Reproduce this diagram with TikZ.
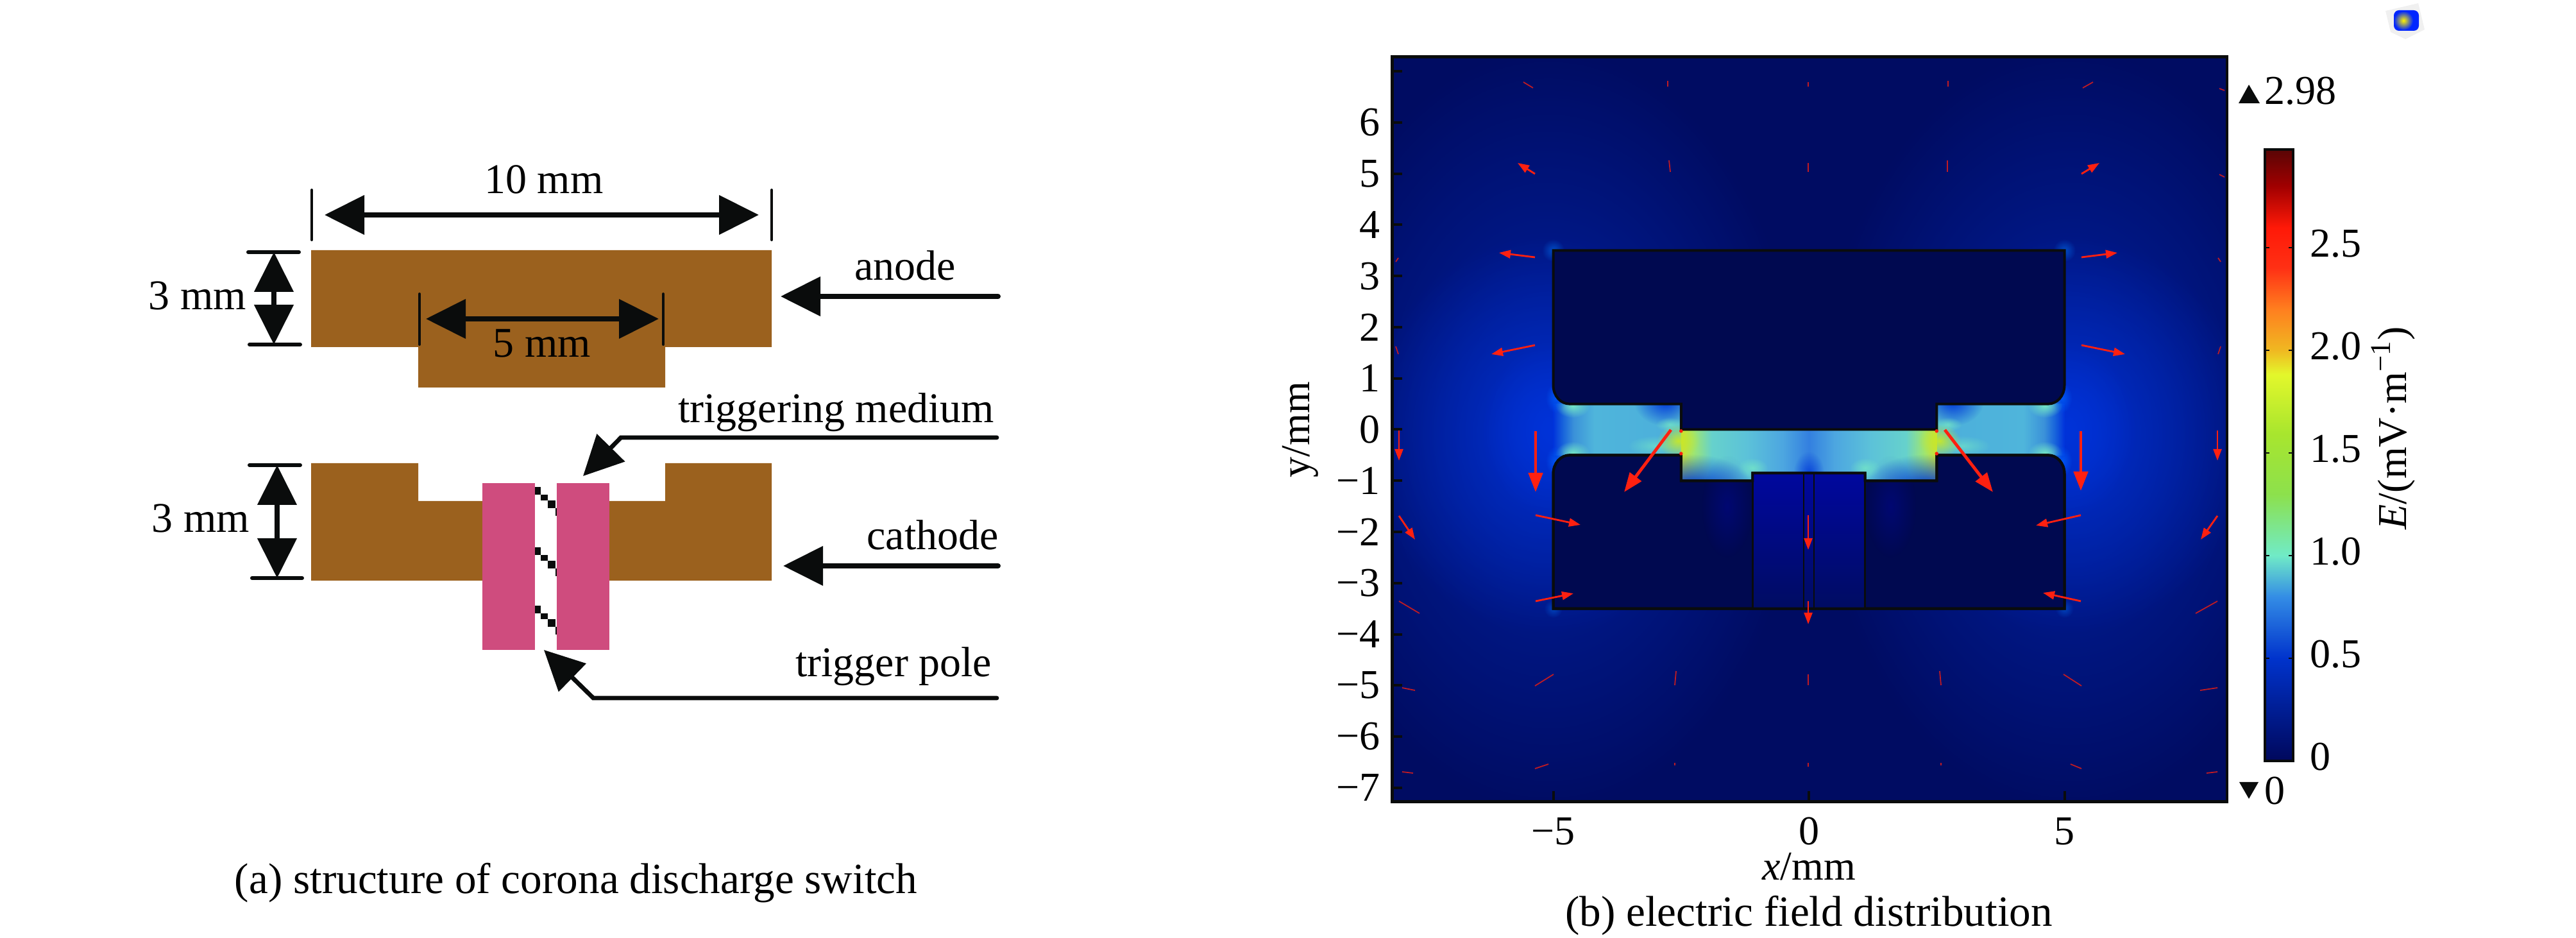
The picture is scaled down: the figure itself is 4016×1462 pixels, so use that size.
\documentclass[tikz,border=0pt]{standalone}
\usepackage{fontspec}
\setmainfont{Liberation Serif}
\usetikzlibrary{arrows.meta,fadings}

\definecolor{brownmetal}{HTML}{9B611E}
\definecolor{pinkpole}{HTML}{CF4C7E}
\definecolor{inkblack}{HTML}{0A0C0C}
\definecolor{navyfield}{HTML}{000C62}
\definecolor{navymetal}{HTML}{000950}
\definecolor{redarrow}{HTML}{FF2010}
\definecolor{glowblue}{HTML}{0034DC}
\definecolor{deepblue}{HTML}{0038D8}
\definecolor{mintglow}{HTML}{78ECC4}
\definecolor{limeglow}{HTML}{C8E828}

\pgfdeclareverticalshading{rainbowbar}{100bp}{
  rgb(0bp)=(0,.03,.36);rgb(25bp)=(0,.03,.36);rgb(33.4bp)=(0,.2,.8);rgb(38.4bp)=(.2,.55,.9);
  rgb(41.8bp)=(.44,.92,.78);rgb(46.8bp)=(.55,.88,.3);rgb(51.8bp)=(.66,.9,.18);rgb(56.6bp)=(.89,.97,.17);
  rgb(58.6bp)=(.94,.72,.13);rgb(61.9bp)=(1,.5,.12);rgb(65.3bp)=(1,.19,.08);rgb(68.6bp)=(1,.1,.03);
  rgb(72bp)=(.63,0,0);rgb(75bp)=(.35,.02,.02);rgb(100bp)=(.35,.02,.02)}
\pgfdeclarehorizontalshading{gapcentre}{100bp}{
  rgb(0bp)=(.8,.88,.2);rgb(25bp)=(.8,.88,.2);rgb(27.5bp)=(.62,.9,.45);rgb(31bp)=(.4,.82,.8);
  rgb(38bp)=(.36,.76,.85);rgb(45bp)=(.3,.65,.88);rgb(50bp)=(.2,.5,.88);rgb(55bp)=(.3,.65,.88);
  rgb(62bp)=(.36,.76,.85);rgb(69bp)=(.4,.82,.8);rgb(72.5bp)=(.62,.9,.45);rgb(75bp)=(.8,.88,.2);
  rgb(100bp)=(.8,.88,.2)}
\pgfdeclarehorizontalshading{gapside}{100bp}{
  rgb(0bp)=(0,.2,.86);rgb(25bp)=(0,.2,.86);rgb(29bp)=(.1,.4,.86);rgb(33bp)=(.23,.57,.85);rgb(41bp)=(.31,.71,.86);
  rgb(68bp)=(.3,.69,.86);rgb(75bp)=(.36,.76,.82);rgb(100bp)=(.36,.76,.82)}

\tikzfading[name=softglow,inner color=transparent!0,outer color=transparent!100]

\tikzset{
  sketchtext/.style={inner sep=0pt,font=\fontsize{16.5}{20}\selectfont},
  ticktext/.style={inner sep=0pt,font=\fontsize{16}{20}\selectfont},
  capttext/.style={inner sep=0pt,font=\fontsize{16.8}{20}\selectfont},
  dimline/.style={line width=2pt,inkblack,{Triangle[length=15.5pt,width=15pt]}-{Triangle[length=15.5pt,width=15pt]}},
  feedline/.style={line width=2pt,inkblack,line cap=round,-{Triangle[length=15.5pt,width=15pt]}},
  endbar/.style={line width=1pt,inkblack,line cap=round},
  softfill/.style={path fading=softglow,draw=none},
  electrode/.style={fill=navymetal,draw=inkblack,line width=1pt},
  fieldbig/.style={redarrow,line width=1.2pt,-{Triangle[length=7.5pt,width=5.5pt]}},
  fieldmid/.style={redarrow,line width=.7pt,-{Triangle[length=4.5pt,width=3.2pt]}},
  fieldtiny/.style={redarrow!75!navyfield,line width=.45pt}
}

\newcommand\ANODEPATH{(-5,3.5) -- (5,3.5) -- (5,.87) .. controls (5,.65) and (4.85,.5) .. (4.68,.5)
  -- (2.5,.5) -- (2.5,0) -- (-2.5,0) -- (-2.5,.5) -- (-4.68,.5) .. controls (-4.85,.5) and (-5,.65) .. (-5,.87) -- cycle}
\newcommand\CATHODEPATH{(-5,-3.5) -- (5,-3.5) -- (5,-.87) .. controls (5,-.65) and (4.85,-.5) .. (4.68,-.5)
  -- (2.5,-.5) -- (2.5,-1) -- (1.1,-1) -- (1.1,-.85) -- (-1.1,-.85) -- (-1.1,-1) -- (-2.5,-1) -- (-2.5,-.5)
  -- (-4.68,-.5) .. controls (-4.85,-.5) and (-5,-.65) .. (-5,-.87) -- cycle}

\begin{document}
\begin{tikzpicture}[x=.25pt,y=-.25pt]

  \useasboundingbox (0,0) rectangle (4016,1462);

  % (a) the switch
  \fill[brownmetal] (485,390) -- (1203,390) -- (1203,541) -- (1037,541) -- (1037,604)
    -- (652,604) -- (652,541) -- (485,541) -- cycle;
  \fill[brownmetal] (485,722) -- (652,722) -- (652,781) -- (752,781) -- (752,905) -- (485,905) -- cycle;
  \fill[brownmetal] (950,781) -- (1037,781) -- (1037,722) -- (1203,722) -- (1203,905) -- (950,905) -- cycle;
  \fill[pinkpole] (752,753) rectangle (834,1013);
  \fill[pinkpole] (868,753) rectangle (950,1013);

  \foreach \YS in {0,94,185}{
    \fill[inkblack] (834,759+\YS) rectangle (843,771+\YS);
    \fill[inkblack] (843,771+\YS) rectangle (854,780+\YS);
    \fill[inkblack] (854,780+\YS) rectangle (866,792+\YS);
    \fill[inkblack] (866,792+\YS) rectangle (868,804+\YS);
  }

  \coordinate (wideL) at (506,335);
  \coordinate (wideR) at (1183,335);
  \coordinate (narrowL) at (664,497);
  \coordinate (narrowR) at (1027,497);
  \coordinate (anodeT) at (427,393);
  \coordinate (anodeB) at (427,537);
  \coordinate (cathT) at (432,725);
  \coordinate (cathB) at (432,901);

  \draw[endbar] (486,296) -- (486,374);
  \draw[endbar] (1203,296) -- (1203,374);
  \draw[endbar] (654,458) -- (654,537);
  \draw[endbar] (1034,458) -- (1034,537);
  \draw[endbar,line width=1.5pt] (387,393) -- (466,393);
  \draw[endbar,line width=1.5pt] (389,537) -- (468,537);
  \draw[endbar,line width=1.5pt] (389,725) -- (468,725);
  \draw[endbar,line width=1.5pt] (393,901) -- (471,901);

  \draw[dimline] (wideL) -- (wideR);
  \draw[dimline] (narrowL) -- (narrowR);
  \draw[dimline] (anodeT) -- (anodeB);
  \draw[dimline] (cathT) -- (cathB);

  \node[sketchtext,anchor=base] (wideText) at (848,302) {10 mm};
  \node[sketchtext,anchor=base] (narrowText) at (845,557) {5 mm};
  \node[sketchtext,anchor=base] (anodeText) at (308,483) {3 mm};
  \node[sketchtext,anchor=base] (cathText) at (313,830) {3 mm};

  \coordinate (anodeTail) at (1556,462);
  \coordinate (anodeTip) at (1217,462);
  \coordinate (cathodeTail) at (1556,882);
  \coordinate (cathodeTip) at (1221,882);
  \coordinate (mediumTail) at (1554,682);
  \coordinate (mediumBend) at (968,682);
  \coordinate (mediumTip) at (909,742);
  \coordinate (poleTail) at (1554,1088);
  \coordinate (poleBend) at (925,1088);
  \coordinate (poleTip) at (848,1013);

  \draw[feedline] (anodeTail) -- (anodeTip);
  \draw[feedline] (cathodeTail) -- (cathodeTip);
  \draw[feedline,line width=1.7pt] (mediumTail) -- (mediumBend) -- (mediumTip);
  \draw[feedline,line width=1.7pt] (poleTail) -- (poleBend) -- (poleTip);

  \node[sketchtext,anchor=base] (anodeName) at (1411,437) {anode};
  \node[sketchtext,anchor=base] (cathodeName) at (1454,857) {cathode};
  \node[sketchtext,anchor=base east] (mediumName) at (1551,659) {triggering medium};
  \node[sketchtext,anchor=base east] (poleName) at (1547,1055) {trigger pole};

  \node[capttext,anchor=base] (captA) at (898,1393) {(a) structure of corona discharge switch};

  % (b) the field plot, in mm
  \begin{scope}[shift={(2820,669.5)},x=19.925pt,y=19.94pt]

    \begin{scope}
      \clip (-8.15,-7.27) rectangle (8.18,7.28);
      \fill[navyfield] (-8.15,-7.27) rectangle (8.18,7.28);

      % glows, mirrored about x=0
      \foreach \SG in {-1,1}{
        \foreach \GX/\GY/\RX/\RY/\GC/\GO in {
          5.1/0/5/7.5/glowblue/.55,
          5.1/-.1/3.6/3.9/glowblue/.75,
          5/0/1.4/1.7/glowblue/.8,
          5/3.5/.22/.22/blue!50!cyan/.5,
          5/-3.5/.18/.18/blue!50!cyan/.4}
          \fill[softfill,fill=\GC,opacity=\GO] (\SG*\GX,\GY) ellipse [x radius=\RX,y radius=\RY];
      }

      % the gaps
      \shade[shading=gapside] (-5,-.5) rectangle (-2.5,.5);
      \shade[shading=gapside,shading angle=180] (2.5,-.5) rectangle (5,.5);
      \shade[shading=gapcentre] (-2.5,-1) rectangle (2.5,0);

      \foreach \SG in {-1,1}{
        \foreach \GX/\GY/\RX/\RY/\GC/\GO in {
          2.3/-1.1/1.2/.62/deepblue/1,
          2.8/.55/.62/.48/deepblue/1,
          4.62/.47/.34/.24/mintglow/.95,
          4.62/-.47/.34/.24/mintglow/.95,
          4.95/.62/.2/.3/blue!60!cyan/.7,
          4.95/-.62/.2/.3/blue!60!cyan/.7,
          1.1/-.75/.3/.2/mintglow/.7,
          3/-.32/.55/.2/mintglow/.6,
          2.72/.1/.28/.14/mintglow/.7,
          2.55/-.22/.42/.32/limeglow/.95}
          \fill[softfill,fill=\GC,opacity=\GO] (\SG*\GX,\GY) ellipse [x radius=\RX,y radius=\RY];
      }
      \fill[softfill,fill=deepblue,opacity=.8] (0,-.85) ellipse [x radius=.3,y radius=.42];
    \end{scope}

    \draw[electrode] \ANODEPATH;
    \draw[electrode] \CATHODEPATH;

    % inside the trigger pole
    \shade[top color=blue!38!navyfield,bottom color=navyfield] (-1.1,-.85) rectangle (1.1,-3.5);
    \foreach \SG in {-1,1}
      \fill[softfill,fill=blue!60!navyfield,opacity=.3] (\SG*1.6,-1.5) ellipse [x radius=.5,y radius=1];

    \draw[electrode,fill=none] \CATHODEPATH;
    \draw[inkblack,line width=.7pt] (-1.1,-.85) -- (-1.1,-3.5);
    \draw[inkblack,line width=.7pt] (1.1,-.85) -- (1.1,-3.5);
    \draw[inkblack,line width=.7pt] (-.1,-.85) -- (-.1,-3.5);
    \draw[inkblack,line width=.7pt] (.1,-.85) -- (.1,-3.5);

    \foreach \SG in {-1,1}
      \foreach \GY in {-.03,-.47}
        \fill[redarrow] (\SG*2.5,\GY) circle (.035);

    % frame and ticks
    \draw[inkblack,line width=1.2pt] (-8.15,-7.27) rectangle (8.18,7.28);
    \foreach \YV in {-7,...,7}
      \draw[inkblack,line width=1pt] (-8.15,\YV) -- (-7.95,\YV);
    \foreach \XV in {-5,0,5}
      \draw[inkblack,line width=1pt] (\XV,-7.27) -- (\XV,-7.07);

    \foreach \YV/\YT in {-7/−7,-6/−6,-5/−5,-4/−4,-3/−3,-2/−2,-1/−1,0/0,1/1,2/2,3/3,4/4,5/5,6/6}
      \node[ticktext,anchor=east] (ylab\YV) at (-8.38,\YV) {\YT};
    \foreach \XV/\XT in {-5/−5,0/0,5/5}
      \node[ticktext,anchor=base] (xlab\XV) at (\XV,-8.11) {\XT};

    \node[ticktext,anchor=base] (xName) at (0,-8.8) {\textit{x}/mm};
    \node[ticktext,rotate=90] (yName) at (-9.95,0) {y/mm};

  \end{scope}

  % red field arrows, in picture pixels
  \foreach \AX/\AY/\BX/\BY in {2394/672/2394/767, 3244/672/3244/765, 2605/670/2532/767, 3032/670/3107/767}
    \draw[fieldbig] (\AX,\AY) -- (\BX,\BY);
  \foreach \AX/\AY/\BX/\BY in {2394/803/2464/818, 3244/803/3174/819, 2394/937/2453/925, 3244/937/3185/924,
      2393/401/2337/394, 3245/401/3301/394, 2393/538/2325/552, 3245/538/3313/552,
      2819/803/2819/857, 2819/937/2819/973, 2181/671/2181/718, 3457/671/3457/718,
      2181/804/2206/841, 3457/804/3431/841, 2393/271/2366/254, 3245/271/3273/254}
    \draw[fieldmid] (\AX,\AY) -- (\BX,\BY);
  \foreach \AX/\AY/\BX/\BY in {2181/937/2213/956, 3457/937/3423/956, 2393/1069/2422/1051, 3245/1069/3217/1051,
      2611/1068/2613/1046, 3026/1068/3024/1046, 2819/1068/2819/1051, 2186/1072/2206/1076, 3457/1072/3430/1076,
      2393/1198/2414/1191, 3245/1198/3228/1191, 2611/1193/2611/1189, 3026/1193/3026/1189, 2819/1195/2819/1189,
      2186/1203/2203/1205, 3457/1203/3440/1205, 2604/268/2602/250, 3036/268/3036/250, 2819/268/2819/254,
      2390/137/2375/128, 3247/137/3263/128, 2600/135/2600/126, 3037/135/3037/126, 2819/135/2819/128,
      2176/408/2180/402, 3462/408/3458/402, 2176/540/2180/552, 3462/540/3458/552, 3460/138/3468/141, 3460/272/3468/276}
    \draw[fieldtiny] (\AX,\AY) -- (\BX,\BY);

  % colour bar
  \shade[shading=rainbowbar] (3531,233) rectangle (3575,1186);
  \draw[inkblack,line width=.8pt] (3531,233) rectangle (3575,1186);
  \foreach \BV/\BL in {0/0,.5/0.5,1/1.0,1.5/1.5,2/2.0,2.5/2.5}{
    \draw[inkblack,line width=.5pt] (3531,1186-320*\BV) -- (3538,1186-320*\BV);
    \draw[inkblack,line width=.5pt] (3568,1186-320*\BV) -- (3575,1186-320*\BV);
    \node[ticktext,anchor=west] (bar\BL) at (3601,1180-320*\BV) {\BL};
  }
  \node[ticktext,rotate=90] (barName) at (3731,667) {\textit{E}/(mV·m\textsuperscript{−1})};

  \coordinate (maxA) at (3490,161);
  \coordinate (maxB) at (3523,161);
  \coordinate (maxC) at (3506,132);
  \fill[inkblack] (maxA) -- (maxB) -- (maxC) -- cycle;
  \node[ticktext,anchor=base west] (maxVal) at (3530,163) {2.98};
  \coordinate (minA) at (3491,1219);
  \coordinate (minB) at (3521,1219);
  \coordinate (minC) at (3506,1245);
  \fill[inkblack] (minA) -- (minB) -- (minC) -- cycle;
  \node[ticktext,anchor=base west] (minVal) at (3530,1254) {0};

  \node[capttext,anchor=base] (captB) at (2820,1443) {(b) electric field distribution};

  % the small icon, top right
  \fill[black!6] (3719,17) -- (3770,5) -- (3780,46) -- (3750,61) -- (3727,50) -- cycle;
  \fill[blue!85!cyan,rounded corners=2pt] (3732,16) rectangle (3771,48);
  \fill[softfill,fill=yellow] (3747,32) ellipse [x radius=15,y radius=15];

\end{tikzpicture}
\end{document}
